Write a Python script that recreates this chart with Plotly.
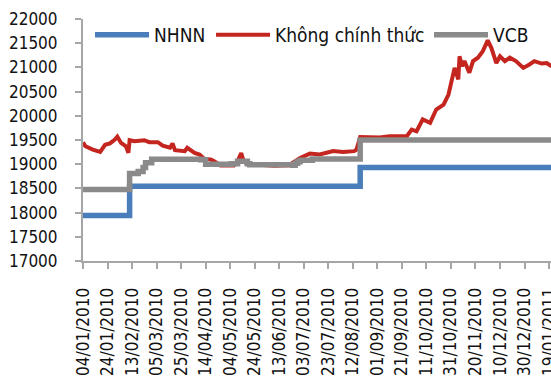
import plotly.graph_objects as go

# NHNN (official rate) - step series
nhnn_dates = ["2010-01-04", "2010-02-11", "2010-08-18", "2011-01-22"]
nhnn_values = [17941, 18544, 18932, 18932]

# VCB - step series
vcb_dates = ["2010-01-04", "2010-02-11", "2010-02-18", "2010-02-22", "2010-02-24",
             "2010-03-01", "2010-04-10", "2010-04-14", "2010-05-05", "2010-05-10",
             "2010-05-18", "2010-05-20", "2010-06-24", "2010-06-26", "2010-06-28",
             "2010-06-30", "2010-07-10", "2010-08-18", "2011-01-22"]
vcb_values = [18479, 18810, 18850, 18930, 19030,
              19100, 19090, 19000, 19010, 19060,
              19010, 18990, 18980, 19020, 19050,
              19080, 19105, 19500, 19500]

# Unofficial (free market) rate
free_dates = ["2010-01-04", "2010-01-06", "2010-01-12", "2010-01-18", "2010-01-22",
              "2010-01-26", "2010-01-30", "2010-02-01", "2010-02-04", "2010-02-08",
              "2010-02-10", "2010-02-11", "2010-02-15", "2010-02-23", "2010-02-27",
              "2010-03-06", "2010-03-10", "2010-03-16", "2010-03-18", "2010-03-20",
              "2010-03-28", "2010-03-30", "2010-04-05", "2010-04-09", "2010-04-13",
              "2010-04-18", "2010-04-21", "2010-04-26", "2010-05-07", "2010-05-10",
              "2010-05-13", "2010-05-15", "2010-05-18", "2010-05-28", "2010-06-09",
              "2010-06-21", "2010-06-30", "2010-07-08", "2010-07-16", "2010-07-27",
              "2010-08-04", "2010-08-13", "2010-08-15", "2010-08-18", "2010-09-03",
              "2010-09-11", "2010-09-25", "2010-09-29", "2010-10-03", "2010-10-08",
              "2010-10-14", "2010-10-19", "2010-10-25", "2010-10-29", "2010-11-02",
              "2010-11-03", "2010-11-06", "2010-11-07", "2010-11-09", "2010-11-11",
              "2010-11-15", "2010-11-18", "2010-11-22", "2010-11-26", "2010-11-30",
              "2010-12-03", "2010-12-07", "2010-12-10", "2010-12-14", "2010-12-18",
              "2010-12-23", "2010-12-29", "2011-01-03", "2011-01-07", "2011-01-13",
              "2011-01-17", "2011-01-20", "2011-01-22"]
free_values = [19450, 19370, 19300, 19255, 19400,
               19430, 19510, 19570, 19440, 19370,
               19235, 19495, 19475, 19495, 19455,
               19455, 19385, 19340, 19430, 19290,
               19270, 19340, 19235, 19200, 19110,
               19100, 19060, 18975, 18975, 19060,
               19230, 19060, 19000, 18990, 18970,
               18980, 19130, 19220, 19200, 19270,
               19250, 19270, 19300, 19560, 19550,
               19580, 19580, 19715, 19680, 19925,
               19855, 20130, 20230, 20440, 20820,
               20990, 20750, 21230, 21025, 21130,
               20890, 21130, 21200, 21335, 21560,
               21400, 21090, 21230, 21130, 21200,
               21130, 20990, 21060, 21130, 21080,
               21090, 21040, 21020]

y_ticks = list(range(17000, 22001, 500))

FONT = "DejaVu Sans Condensed, Liberation Sans, Arial, sans-serif"

fig = go.Figure()
fig.add_trace(go.Scatter(x=nhnn_dates, y=nhnn_values, name="NHNN", mode="lines",
                         legendwidth=52,
                         line=dict(color="#4a7ebb", width=5.5, shape="hv")))
fig.add_trace(go.Scatter(x=free_dates, y=free_values, name="Không chính thức", mode="lines",
                         legendwidth=149,
                         line=dict(color="#c4261f", width=4)))
fig.add_trace(go.Scatter(x=vcb_dates, y=vcb_values, name="VCB", mode="lines",
                         line=dict(color="#8a8a8a", width=5.5, shape="hv")))

fig.update_layout(
    width=551, height=380,
    margin=dict(l=83, r=0, t=19, b=119),
    paper_bgcolor="white", plot_bgcolor="white",
    font=dict(family=FONT, size=17, color="#111111"),
    showlegend=True,
    legend=dict(orientation="h", x=0.015, xanchor="left", y=0.934, yanchor="middle",
                font=dict(family=FONT, size=19, color="#111111"),
                bgcolor="rgba(0,0,0,0)", itemwidth=54),
)
fig.update_xaxes(
    type="date",
    range=["2010-01-04", "2011-01-20 14:00"],
    tick0="2010-01-04", dtick=20 * 86400000,
    tickformat="%d/%m/%Y", tickangle=-90,
    showgrid=False, zeroline=False,
    showline=True, linecolor="#a6a6a6", linewidth=2,
    ticks="outside", ticklen=6, tickwidth=2, tickcolor="#a6a6a6",
    ticklabelstandoff=12, ticklabeloverflow="allow", automargin=False,
    tickfont=dict(family=FONT, size=17, color="#111111"),
)
fig.update_yaxes(
    range=[17000, 22000], tickvals=y_ticks, ticktext=[str(v) for v in y_ticks],
    showgrid=False, zeroline=False,
    showline=True, linecolor="#a6a6a6", linewidth=2,
    ticks="outside", ticklen=6, tickwidth=2, tickcolor="#a6a6a6",
    ticklabelstandoff=14, automargin=False,
    tickfont=dict(family=FONT, size=17, color="#111111"),
)

fig.write_html("out.html")
